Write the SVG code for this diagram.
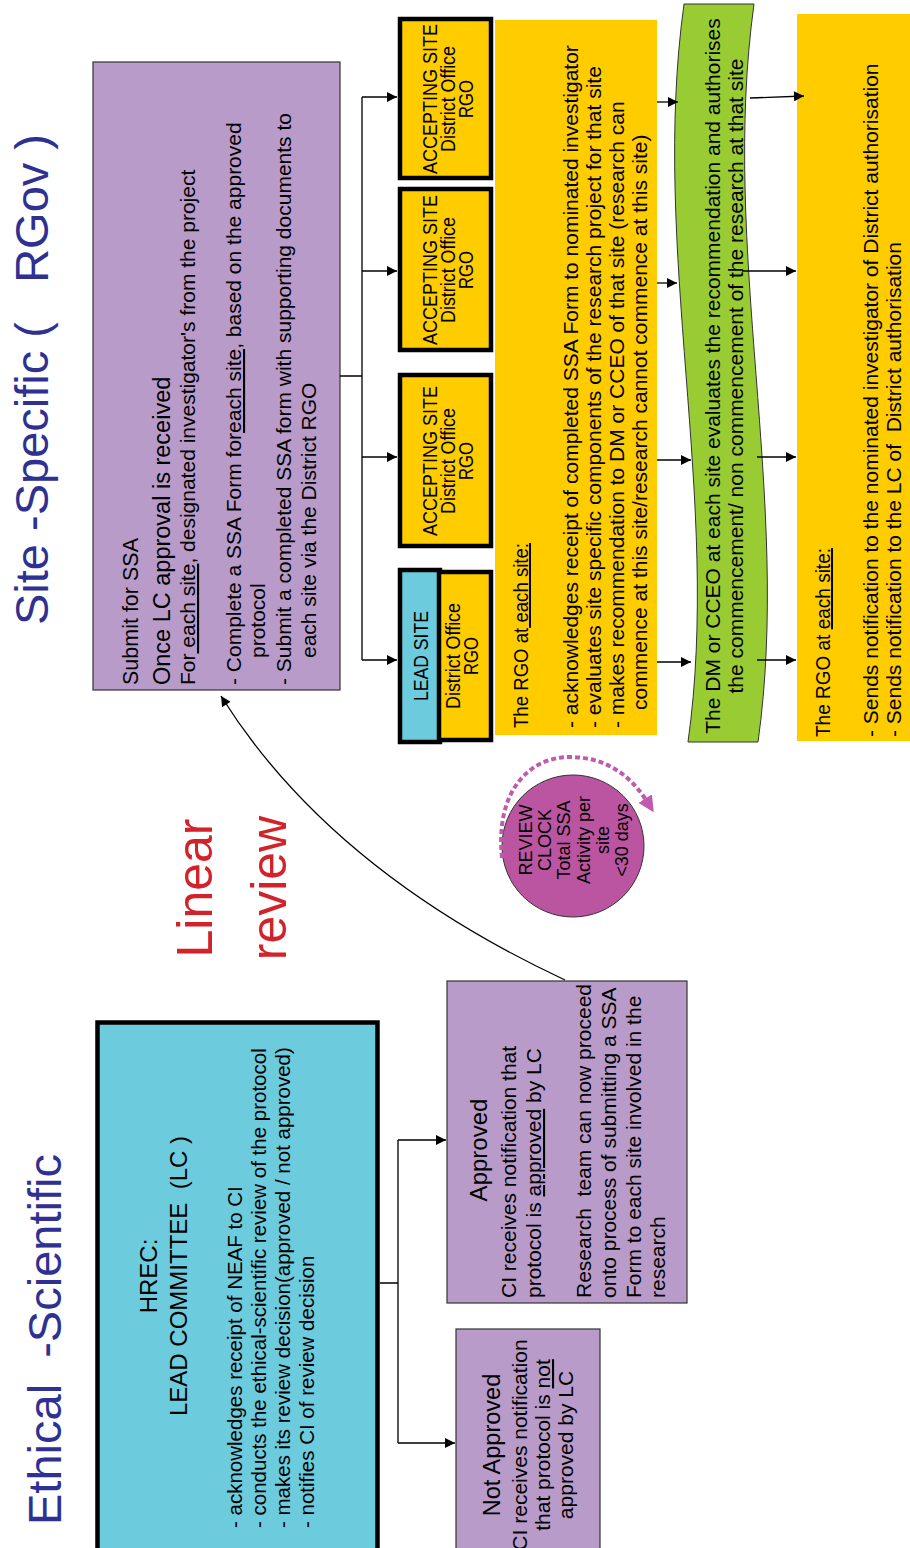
<svg xmlns="http://www.w3.org/2000/svg" width="910" height="1548" viewBox="0 0 910 1548">
  <defs>
    <marker id="arr" viewBox="0 0 10 10" refX="10" refY="5" markerWidth="12" markerHeight="10" markerUnits="userSpaceOnUse" orient="auto">
      <path d="M0,0 L10,5 L0,10 z" fill="#000"/>
    </marker>
    <marker id="arrClock" viewBox="0 0 10 10" refX="1" refY="5" markerWidth="16" markerHeight="16" markerUnits="userSpaceOnUse" orient="auto">
      <path d="M0,0 L10,5 L0,10 z" fill="#C05AAE"/>
    </marker>
  </defs>
  <style>
    text { font-family: "Liberation Sans", Arial, sans-serif; fill: #000; }
    .title { font-size: 47px; fill: #2E3192; }
    .red { font-size: 50px; fill: #D2232A; }
    .f21 { font-size: 21px; }
    .f20 { font-size: 20px; }
    .f18 { font-size: 18px; }
    .mid { text-anchor: middle; }
    .u { text-decoration: underline; }
    .lav { fill: #B89BC9; stroke: #333; stroke-width: 1.2; }
    .gold { fill: #FFCC00; }
    .site { fill: #FFCC00; stroke: #000; stroke-width: 4.5; }
    .cyan { fill: #6CCBDD; stroke: #000; stroke-width: 4.5; }
    .ln { fill: none; stroke: #000; stroke-width: 1.3; }
  </style>

  <!-- section headings -->
  <g id="title-site-specific">
    <text class="title" transform="matrix(0,-1,1,0,0,1548)" x="923" y="48" xml:space="preserve">Site -Specific (   RGov )</text>
  </g>
  <g id="title-ethical-scientific">
    <text class="title" transform="matrix(0,-1,1,0,0,1548)" x="23" y="61" font-size="48" xml:space="preserve">Ethical  -Scientific</text>
  </g>
  <g id="label-linear-review">
    <g transform="matrix(0,-1,1,0,0,1548)">
      <text class="red mid" x="660" y="212">Linear</text>
      <text class="red mid" x="660" y="286">review</text>
    </g>
  </g>

  <!-- SSA submission -->
  <g id="ssa-submit">
    <rect class="lav" x="93" y="62" width="247" height="628"/>
    <g transform="matrix(0,-1,1,0,0,1548)">
      <text x="863" y="138" font-size="21.5">Submit for SSA</text>
      <text x="863" y="170" font-size="23.5">Once LC approval is received</text>
      <text class="f21" x="863" y="195">For<tspan class="u"> each site</tspan>, designated investigator's from the project</text>
      <text class="f21" x="863" y="241">- Complete a SSA Form for<tspan class="u">each site,</tspan> based on the approved</text>
      <text class="f21" x="890" y="265">protocol</text>
      <text class="f21" x="863" y="291">- Submit a completed SSA form with supporting documents to</text>
      <text class="f21" x="890" y="316">each site via the District RGO</text>
    </g>
  </g>

  <!-- district offices -->
  <g id="site-accepting-1">
    <rect class="site" x="400" y="19" width="91" height="159"/>
    <g class="f20 mid" transform="matrix(0,-1,1,0,0,1548)">
      <text x="1449" y="437" textLength="150" lengthAdjust="spacingAndGlyphs">ACCEPTING SITE</text>
      <text x="1449" y="455" textLength="106" lengthAdjust="spacingAndGlyphs">District Office</text>
      <text x="1449" y="473" textLength="38" lengthAdjust="spacingAndGlyphs">RGO</text>
    </g>
  </g>
  <g id="site-accepting-2">
    <rect class="site" x="400" y="189" width="91" height="161"/>
    <g class="f20 mid" transform="matrix(0,-1,1,0,0,1548)">
      <text x="1278" y="437" textLength="150" lengthAdjust="spacingAndGlyphs">ACCEPTING SITE</text>
      <text x="1278" y="455" textLength="106" lengthAdjust="spacingAndGlyphs">District Office</text>
      <text x="1278" y="473" textLength="38" lengthAdjust="spacingAndGlyphs">RGO</text>
    </g>
  </g>
  <g id="site-accepting-3">
    <rect class="site" x="400" y="375" width="91" height="171"/>
    <g class="f20 mid" transform="matrix(0,-1,1,0,0,1548)">
      <text x="1087" y="437" textLength="150" lengthAdjust="spacingAndGlyphs">ACCEPTING SITE</text>
      <text x="1087" y="455" textLength="106" lengthAdjust="spacingAndGlyphs">District Office</text>
      <text x="1087" y="473" textLength="38" lengthAdjust="spacingAndGlyphs">RGO</text>
    </g>
  </g>
  <g id="site-lead">
    <rect class="cyan" x="400" y="570" width="40" height="172"/>
    <rect class="site" x="439" y="572" width="52" height="168"/>
    <g class="f20 mid" transform="matrix(0,-1,1,0,0,1548)">
      <text x="892" y="428" textLength="90" lengthAdjust="spacingAndGlyphs">LEAD SITE</text>
      <text x="892" y="460" textLength="106" lengthAdjust="spacingAndGlyphs">District Office</text>
      <text x="892" y="478" textLength="38" lengthAdjust="spacingAndGlyphs">RGO</text>
    </g>
  </g>

  <!-- RGO evaluation -->
  <g id="rgo-evaluate">
    <rect class="gold" x="495" y="20" width="162" height="715"/>
    <g transform="matrix(0,-1,1,0,0,1548)">
      <text class="f20" x="820" y="528" textLength="185" lengthAdjust="spacingAndGlyphs">The RGO at<tspan class="u"> each site:</tspan></text>
      <text class="f21" x="820" y="578">- acknowledges receipt of completed SSA Form to nominated investigator</text>
      <text class="f21" x="820" y="601">- evaluates site specific components of the research project for that site</text>
      <text class="f21" x="820" y="624">- makes recommendation to DM or CCEO of that site (research can</text>
      <text class="f21" x="838" y="647">commence at this site/research cannot commence at this site)</text>
    </g>
  </g>

  <!-- DM / CCEO authorisation -->
  <g id="dm-authorise">
    <path d="M684,4 C650,250 722,500 688,742 L758,742 C792,500 720,250 754,4 Z" fill="#99CC33" stroke="#333" stroke-width="1"/>
    <g transform="matrix(0,-1,1,0,0,1548)">
      <text class="f21 mid" x="1172" y="720">The DM or CCEO at each site evaluates the recommendation and authorises</text>
      <text class="f21 mid" x="1172" y="743">the commencement/ non commencement of the research at that site</text>
    </g>
  </g>

  <!-- RGO notification -->
  <g id="rgo-notify">
    <rect class="gold" x="797" y="14" width="113" height="727"/>
    <g transform="matrix(0,-1,1,0,0,1548)">
      <text class="f20" x="811" y="830" textLength="189" lengthAdjust="spacingAndGlyphs">The RGO at <tspan class="u">each site:</tspan></text>
      <text class="f21" x="811" y="878">- Sends notification to the nominated investigator of District authorisation</text>
      <text class="f21" x="811" y="901" xml:space="preserve">- Sends notification to the LC of  District authorisation</text>
    </g>
  </g>

  <!-- review clock -->
  <g id="review-clock">
    <circle cx="573" cy="846" r="71" fill="#BB55A2" stroke="#333" stroke-width="1"/>
    <path d="M502,858 C495,790 530,757 570,757 C605,757 630,775 646,800" fill="none" stroke="#C05AAE" stroke-width="4" stroke-dasharray="5 3" marker-end="url(#arrClock)"/>
    <text class="f18 mid" transform="matrix(0,-1,1,0,0,1548)"><tspan x="708" y="532">REVIEW</tspan><tspan x="708" y="551">CLOCK</tspan><tspan x="708" y="570">Total SSA</tspan><tspan x="708" y="590">Activity per</tspan><tspan x="708" y="609">site</tspan><tspan x="708" y="628">&lt;30 days</tspan></text>
  </g>

  <!-- HREC lead committee -->
  <g id="hrec-lc">
    <rect class="cyan" x="97.5" y="1022.5" width="280" height="540" stroke-width="5"/>
    <g transform="matrix(0,-1,1,0,0,1548)">
      <text class="mid" x="272" y="157" font-size="24">HREC:</text>
      <text class="mid" x="272" y="187" font-size="24" xml:space="preserve">LEAD COMMITTEE  (LC )</text>
      <text x="20" y="242" font-size="20.5">- acknowledges receipt of NEAF to CI</text>
      <text x="20" y="266" font-size="20.5">- conducts the ethical-scientific review of the protocol</text>
      <text x="20" y="290" font-size="20.5">- makes its review decision(approved / not approved)</text>
      <text x="20" y="314" font-size="20.5">- notifies CI of review decision</text>
    </g>
  </g>

  <!-- outcomes -->
  <g id="outcome-approved">
    <rect class="lav" x="447" y="981" width="240" height="322"/>
    <g transform="matrix(0,-1,1,0,0,1548)">
      <text class="mid" x="398" y="487" font-size="24">Approved</text>
      <text class="f21" x="250" y="516">CI receives notification that</text>
      <text class="f21" x="250" y="541">protocol is <tspan class="u">approved</tspan> by LC</text>
      <text class="f21" x="250" y="591" xml:space="preserve">Research  team can now proceed</text>
      <text class="f21" x="250" y="616">onto process of submitting a SSA</text>
      <text class="f21" x="250" y="641">Form to each site involved in the</text>
      <text class="f21" x="250" y="665">research</text>
    </g>
  </g>
  <g id="outcome-not-approved">
    <rect class="lav" x="456" y="1329" width="144" height="230"/>
    <g transform="matrix(0,-1,1,0,0,1548)">
      <text class="mid" x="103" y="500" font-size="23.5">Not Approved</text>
      <text class="f21 mid" x="103" y="527">CI receives notification</text>
      <text class="f21 mid" x="103" y="550">that protocol is <tspan class="u">not</tspan></text>
      <text class="f21 mid" x="103" y="573">approved by LC</text>
    </g>
  </g>

  <!-- connectors -->
  <g id="connectors">
    <path class="ln" d="M340,376 H362 M362,97 V660"/>
    <path class="ln" d="M362,97 H397" marker-end="url(#arr)"/>
    <path class="ln" d="M362,271 H397" marker-end="url(#arr)"/>
    <path class="ln" d="M362,457 H397" marker-end="url(#arr)"/>
    <path class="ln" d="M362,660 H397" marker-end="url(#arr)"/>

    <path class="ln" d="M657,102 H678" marker-end="url(#arr)"/>
    <path class="ln" d="M657,283 H677" marker-end="url(#arr)"/>
    <path class="ln" d="M657,460 H691" marker-end="url(#arr)"/>
    <path class="ln" d="M657,662 H691" marker-end="url(#arr)"/>

    <path class="ln" d="M750,98 L804,96" marker-end="url(#arr)"/>
    <path class="ln" d="M742,271 H796" marker-end="url(#arr)"/>
    <path class="ln" d="M757,457 H796" marker-end="url(#arr)"/>
    <path class="ln" d="M757,660 H796" marker-end="url(#arr)"/>

    <path class="ln" d="M380,1283 H398 M398,1140 V1443"/>
    <path class="ln" d="M398,1140 H446" marker-end="url(#arr)"/>
    <path class="ln" d="M398,1443 H455" marker-end="url(#arr)"/>

    <path class="ln" d="M565,980 Q330,870 221,696" marker-end="url(#arr)"/>
  </g>
</svg>
